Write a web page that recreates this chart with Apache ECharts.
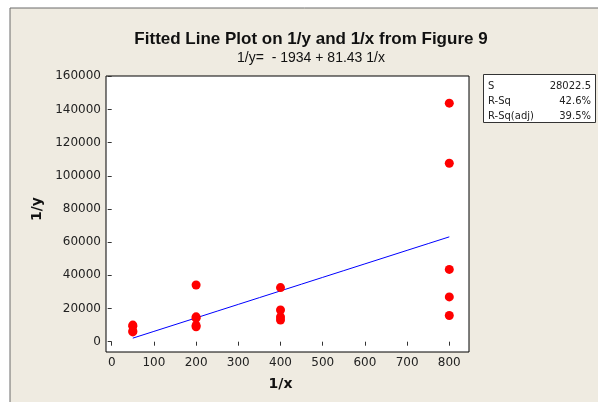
<!DOCTYPE html>
<html><head><meta charset="utf-8">
<script src="https://cdn.jsdelivr.net/npm/echarts@6/dist/echarts.min.js"></script>
<style>html,body{margin:0;padding:0;background:#fff}#c{width:598px;height:402px}</style>
</head><body><div id="c"></div>
<script>
var titleText = 'Fitted Line Plot on 1/y and 1/x from Figure 9';
var subText = '1/y=  - 1934 + 81.43 1/x';
var xName = '1/x';
var yName = '1/y';
var xTicks = [0, 100, 200, 300, 400, 500, 600, 700, 800];
var yTicks = [0, 20000, 40000, 60000, 80000, 100000, 120000, 140000, 160000];
var pointX = [50, 50, 50, 50, 200, 200, 200, 200, 200, 400, 400, 400, 400, 800, 800, 800, 800, 800];
var pointY = [10000, 9300, 6500, 5900, 34200, 15000, 14200, 9800, 9000, 32600, 19100, 14900, 13100, 143800, 107600, 43600, 27000, 15800];
var fitIntercept = -1934;
var fitSlope = 81.43;
var fitX = [50, 100, 150, 200, 250, 300, 350, 400, 450, 500, 550, 600, 650, 700, 750, 800];
var statLabels = ['S', 'R-Sq', 'R-Sq(adj)'];
var statValues = ['28022.5', '42.6%', '39.5%'];

var scatterData = pointX.map(function (x, i) { return [x, pointY[i]]; });
var fitData = fitX.map(function (x) { return [x, fitIntercept + fitSlope * x]; });

var font = 'DejaVu Sans';
var graphics = [
  { type: 'rect', z: -10, shape: { x: 10, y: 8, width: 600, height: 400 },
    style: { fill: '#EFEBE1', stroke: '#6b6b6b', lineWidth: 1 } },
  { type: 'rect', z: 5, shape: { x: 483.5, y: 74.5, width: 112, height: 48 },
    style: { fill: '#fff', stroke: '#333', lineWidth: 1 } }
];
statLabels.forEach(function (s, i) {
  graphics.push({ type: 'text', z: 6, style: { text: s, x: 488, y: 86 + i * 15, font: '10px "' + font + '"', fill: '#222', textVerticalAlign: 'middle' } });
  graphics.push({ type: 'text', z: 6, style: { text: statValues[i], x: 591, y: 86 + i * 15, font: '10px "' + font + '"', fill: '#222', textAlign: 'right', textVerticalAlign: 'middle' } });
});

var chart = echarts.init(document.getElementById('c'));
chart.setOption({
  backgroundColor: '#fff',
  animation: false,
  textStyle: { fontFamily: font },
  title: {
    text: titleText, subtext: subText,
    left: 306, top: 26, textAlign: 'center', itemGap: 3,
    textStyle: { fontFamily: 'Liberation Sans', fontWeight: 'bold', fontSize: 17, color: '#111' },
    subtextStyle: { fontFamily: 'Liberation Sans', fontSize: 14, color: '#111' }
  },
  graphic: graphics,
  grid: [
    { left: 106, right: 129, top: 76, bottom: 50, show: true, backgroundColor: '#fff', borderColor: '#000', borderWidth: 1 },
    { left: 111.7, right: 148.7, top: 76.3, bottom: 60.3 }
  ],
  xAxis: [
    { gridIndex: 0, type: 'value', min: 0, max: 1, show: false },
    { gridIndex: 1, type: 'value', min: xTicks[0], max: xTicks[xTicks.length - 1], interval: 100,
      offset: 10.3, splitLine: { show: false }, axisLine: { show: false },
      axisTick: { show: true, length: 4, lineStyle: { color: '#333' } },
      axisLabel: { fontSize: 12, color: '#222', margin: 5, formatter: function (v) { return String(v); } },
      name: xName, nameLocation: 'middle', nameGap: 25,
      nameTextStyle: { fontWeight: 'bold', fontSize: 14, color: '#111' } }
  ],
  yAxis: [
    { gridIndex: 0, type: 'value', min: 0, max: 1, show: false },
    { gridIndex: 1, type: 'value', min: yTicks[0], max: yTicks[yTicks.length - 1], interval: 20000,
      offset: 5.7, splitLine: { show: false }, axisLine: { show: false },
      axisTick: { show: true, length: 4, lineStyle: { color: '#333' } },
      axisLabel: { fontSize: 12, color: '#222', margin: 5, formatter: function (v) { return String(v); } },
      name: yName, nameLocation: 'middle', nameGap: 58, nameRotate: 90,
      nameTextStyle: { fontWeight: 'bold', fontSize: 14, color: '#111' } }
  ],
  series: [
    { type: 'line', xAxisIndex: 1, yAxisIndex: 1, data: fitData, showSymbol: false,
      lineStyle: { color: '#0000FF', width: 1 }, z: 3 },
    { type: 'scatter', xAxisIndex: 1, yAxisIndex: 1, data: scatterData, symbolSize: 9,
      itemStyle: { color: '#FF0000', opacity: 1 }, z: 4 }
  ]
});
</script></body></html>
